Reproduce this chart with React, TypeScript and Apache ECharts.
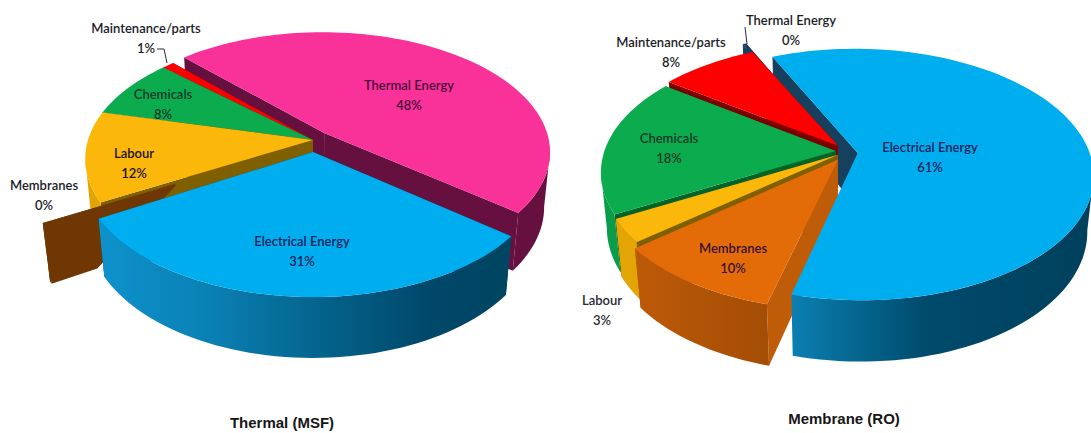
import React, { useEffect, useRef } from "react";
import * as echarts from "echarts";

// Cost shares, in the order the slices run clockwise round each disc.
const msfNames = ["Electrical Energy", "Membranes", "Labour", "Chemicals", "Maintenance/parts", "Thermal Energy"];
const msfValues = [31, 0.3, 12, 8, 1, 48];
const roNames = ["Electrical Energy", "Membranes", "Labour", "Chemicals", "Maintenance/parts", "Thermal Energy"];
const roValues = [61, 10, 3, 18, 8, 0.3];

const chartTitles = ["Thermal (MSF)", "Membrane (RO)"];

type Part = "cutStart" | "cutEnd" | "rim" | "top";
const ALL: Part[] = ["cutStart", "cutEnd", "rim", "top"];

type Stop = [number, string];
type Look = { top: string; cut: string; rim: Stop[] };
const flat = (c: string): Stop[] => [[0, c], [1, c]];

const LOOKS: Record<string, Look> = {
  "Electrical Energy": {
    top: "#00adef",
    cut: "#17405f",
    rim: [[0, "#0e92cc"], [0.25, "#0a82b6"], [0.55, "#04628a"], [0.8, "#00486a"], [1, "#004561"]],
  },
  Membranes: { top: "#e36c09", cut: "#bf5c07", rim: [[0, "#bd5a08"], [1, "#a34d05"]] },
  Labour: { top: "#fbb70a", cut: "#7f6000", rim: flat("#e3a506") },
  Chemicals: { top: "#0cac4e", cut: "#006426", rim: flat("#0a9c49") },
  "Maintenance/parts": { top: "#fe0000", cut: "#7b0000", rim: flat("#c00000") },
  "Thermal Energy": { top: "#f9329a", cut: "#65103f", rim: flat("#65103f") },
};
const RO_ELECTRICAL_LOOK: Look = {
  top: "#00adef",
  cut: "#17405f",
  rim: [[0, "#0b7fb2"], [0.25, "#04628a"], [0.45, "#004a6c"], [1, "#00405c"]],
};
const MSF_MEMBRANE_LOOK: Look = { top: "#6e3704", cut: "#6e3704", rim: flat("#6e3704") };
const RO_THERMAL_LOOK: Look = { top: "#1b3f60", cut: "#1b3f60", rim: flat("#1b3f60") };

type Disc = {
  cx: number; cy: number; sx: number; sy: number; k: number; depth: number; shrink: number;
  start: number;
  names: string[];
  values: number[];
  shifts: [number, number][];
  // Where a slice's cut face begins along its radius, at the top face and at the base.
  cores: Record<number, [number, number]>;
  paint: [number, Part[]][];
  looks: Look[];
  labels: { x: number; y: number; fill: string }[];
  titleAt: [number, number];
};

const discs: Disc[] = [
  {
    cx: 313, cy: 140, sx: 225, sy: 118.4, k: 0.155, depth: 56, shrink: 0.025,
    start: 128.5,
    names: msfNames,
    values: msfValues,
    shifts: [[0, -0.1], [-0.21, -0.145], [0, 0], [0, 0], [0, 0], [0.05, 0.06]],
    cores: { 1: [0.42, 0.8] },
    paint: [[5, ALL], [4, ALL], [3, ALL], [2, ALL], [1, ALL], [0, ALL]],
    looks: msfNames.map((n) => (n === "Membranes" ? MSF_MEMBRANE_LOOK : LOOKS[n])),
    labels: [
      { x: 302, y: 241, fill: "#14235a" },
      { x: 44, y: 185, fill: "#1c1c28" },
      { x: 134, y: 153, fill: "#1c1224" },
      { x: 163, y: 94, fill: "#0f3a2a" },
      { x: 146, y: 28, fill: "#1c1c28" },
      { x: 409, y: 85, fill: "#4a0c3a" },
    ],
    titleAt: [282, 422],
  },
  {
    cx: 838, cy: 150, sx: 231, sy: 121, k: 0.17, depth: 56, shrink: 0.025,
    start: -24.3,
    names: roNames,
    values: roValues,
    shifts: [[0.085, -0.025], [0, -0.08], [0, -0.04], [-0.01, -0.008], [0, 0.035], [-0.056, 0.125]],
    cores: {},
    paint: [[0, ["cutStart"]], [5, ALL], [4, ALL], [3, ALL], [2, ALL], [1, ALL], [0, ["rim", "top"]]],
    looks: roNames.map((n) =>
      n === "Thermal Energy" ? RO_THERMAL_LOOK : n === "Electrical Energy" ? RO_ELECTRICAL_LOOK : LOOKS[n]
    ),
    labels: [
      { x: 930, y: 147, fill: "#14235a" },
      { x: 733, y: 248, fill: "#3a1030" },
      { x: 602, y: 300, fill: "#2a2a34" },
      { x: 669, y: 138, fill: "#0f3a2a" },
      { x: 671, y: 42, fill: "#1c1c28" },
      { x: 791, y: 20, fill: "#1c1c28" },
    ],
    titleAt: [844, 418],
  },
];

// Leader lines from outside labels to the narrowest slices.
const leaders: number[][][] = [
  [[157, 49], [164, 49], [167, 63]],
  [[745, 27], [747, 44]],
];

const RAD = Math.PI / 180;
const LABEL_FONT = '600 13px Lato, "Open Sans", sans-serif';

// Maps a point on the disc plane (level 0 = top face, 1 = base) to the page.
function project(d: Disc, X: number, Y: number, level: number): number[] {
  const w = 1 + d.k * Y + d.shrink * level;
  return [d.cx + (d.sx * X) / w, d.cy + (-d.sy * Y + d.depth * level) / w];
}

function sliceAngles(d: Disc): [number, number][] {
  const total = d.values.reduce((a, b) => a + b, 0);
  let at = d.start;
  return d.values.map((v) => {
    const from = at;
    at += (v / total) * 360;
    return [from, at];
  });
}

function arcPoints(d: Disc, shift: [number, number], from: number, to: number, level: number, radius = 1): number[][] {
  const steps = Math.max(1, Math.ceil(Math.abs(to - from) / 2));
  const out: number[][] = [];
  for (let i = 0; i <= steps; i++) {
    const t = (from + ((to - from) * i) / steps) * RAD;
    out.push(project(d, shift[0] + radius * Math.sin(t), shift[1] + radius * Math.cos(t), level));
  }
  return out;
}

// The part of an arc that faces the viewer, between the two silhouette angles.
function frontRange(d: Disc, from: number, to: number): [number, number] | null {
  const a = Math.acos(-d.k) / RAD;
  for (const n of [-360, 0, 360]) {
    const lo = Math.max(from, a + n);
    const hi = Math.min(to, 360 - a + n);
    if (hi > lo) return [lo, hi];
  }
  return null;
}

function partShapes(d: Disc, index: number, part: Part, angles: [number, number]) {
  const shift = d.shifts[index];
  const look = d.looks[index];
  const core = d.cores[index] ?? [0, 0];
  const mid = (angles[0] + angles[1]) / 2;
  const poly = (points: number[][], fill: unknown) => ({
    type: "polygon",
    shape: { points },
    style: { fill, stroke: null },
    silent: true,
  });
  if (part === "top") {
    const apex = arcPoints(d, shift, mid, mid, 0, core[0])[0];
    return poly([apex, ...arcPoints(d, shift, angles[0], angles[1], 0)], look.top);
  }
  if (part === "cutStart" || part === "cutEnd") {
    const t = part === "cutStart" ? angles[0] : angles[1];
    return poly(
      [
        arcPoints(d, shift, t, t, 0, core[0])[0],
        arcPoints(d, shift, t, t, 0)[0],
        arcPoints(d, shift, t, t, 1)[0],
        arcPoints(d, shift, t, t, 1, core[1])[0],
      ],
      look.cut
    );
  }
  const range = frontRange(d, angles[0], angles[1]);
  if (!range) return null;
  const outer = [
    ...arcPoints(d, shift, range[0], range[1], 0),
    ...arcPoints(d, shift, range[1], range[0], 1),
  ];
  const fill = new echarts.graphic.LinearGradient(
    0, 0, 1, 0,
    look.rim.map(([offset, color]) => ({ offset, color }))
  );
  return poly(outer, fill);
}

function discSeries(d: Disc) {
  const angles = sliceAngles(d);
  return {
    type: "custom",
    coordinateSystem: "none",
    silent: true,
    data: d.paint.map(([slice]) => [slice, d.values[slice]]),
    renderItem: (params: { dataIndex: number }) => {
      const [slice, parts] = d.paint[params.dataIndex];
      const children = parts
        .map((p) => partShapes(d, slice, p, angles[slice]))
        .filter(Boolean);
      return { type: "group", children };
    },
  };
}

function labelElements() {
  const out: unknown[] = [];
  discs.forEach((d, di) => {
    d.names.forEach((name, i) => {
      const at = d.labels[i];
      out.push({
        type: "text",
        z: 20,
        x: at.x,
        y: at.y,
        style: { text: name, fill: at.fill, font: LABEL_FONT, textAlign: "center", textVerticalAlign: "middle" },
      });
      out.push({
        type: "text",
        z: 20,
        x: at.x,
        y: at.y + 19.5,
        style: {
          text: `${Math.round(d.values[i])}%`,
          fill: at.fill,
          font: LABEL_FONT,
          textAlign: "center",
          textVerticalAlign: "middle",
        },
      });
    });
    out.push({
      type: "text",
      z: 20,
      x: d.titleAt[0],
      y: d.titleAt[1],
      style: {
        text: chartTitles[di],
        fill: "#161616",
        font: 'bold 15px "Liberation Sans", Arial, sans-serif',
        textAlign: "center",
        textVerticalAlign: "middle",
      },
    });
  });
  leaders.forEach((points) => {
    out.push({
      type: "polyline",
      z: 19,
      shape: { points },
      style: { stroke: "#2a2a34", lineWidth: 1, fill: null },
    });
  });
  return out;
}

export default function App() {
  const ref = useRef<HTMLDivElement>(null);
  useEffect(() => {
    const chart = echarts.init(ref.current!, undefined, { renderer: "svg" });
    chart.setOption({
      animation: false,
      backgroundColor: "#ffffff",
      series: discs.map(discSeries),
      graphic: { elements: labelElements() },
    });
    return () => chart.dispose();
  }, []);
  return <div ref={ref} style={{ position: "fixed", left: 0, top: 0, width: 1091, height: 433 }} />;
}
